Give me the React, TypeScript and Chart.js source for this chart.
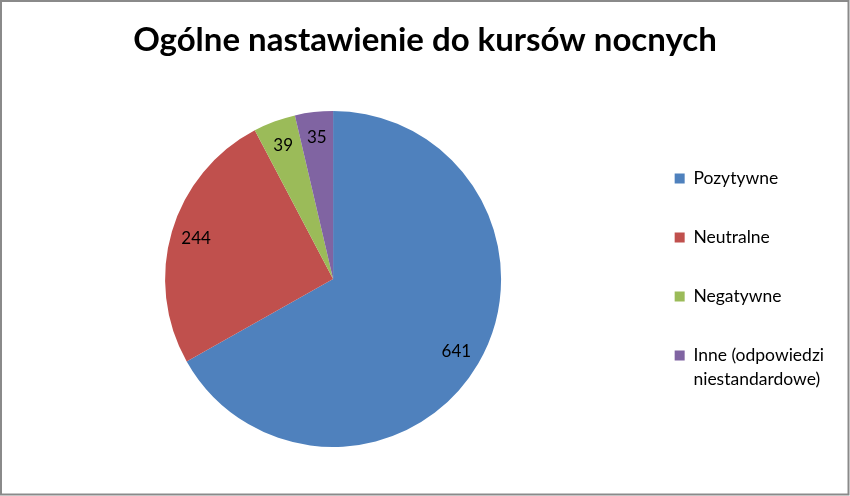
import React, { useEffect, useRef } from "react";
import { Chart, registerables, layouts } from "chart.js";

Chart.register(...registerables);

const categories: (string | string[])[] = [
  "Pozytywne",
  "Neutralne",
  "Negatywne",
  ["Inne (odpowiedzi", "niestandardowe)"],
];
const values: number[] = [641, 244, 39, 35];
const colors: string[] = ["#4F81BD", "#C0504D", "#9BBB59", "#8064A2"];
const titleText = "Ogólne nastawienie do kursów nocnych";

const FONT = "Lato, 'Open Sans', sans-serif";
const SIDE_PAD = 16;
const LEFT_SPACER = 17;

const sliceLabels = {
  id: "sliceLabels",
  afterDatasetsDraw(chart: any) {
    const ctx = chart.ctx;
    const meta = chart.getDatasetMeta(0);
    const data = chart.data.datasets[0].data;
    ctx.save();
    ctx.font = `17px ${FONT}`;
    ctx.fillStyle = "#000";
    ctx.textAlign = "center";
    ctx.textBaseline = "middle";
    meta.data.forEach((arc: any, i: number) => {
      const p = arc.getProps(["x", "y", "startAngle", "endAngle", "outerRadius"], true);
      const mid = (p.startAngle + p.endAngle) / 2;
      const r = p.outerRadius * 0.85;
      ctx.fillText(String(data[i]), p.x + Math.cos(mid) * r, p.y + Math.sin(mid) * r);
    });
    ctx.restore();
  },
};

const frame = {
  id: "frame",
  beforeInit(chart: any) {
    const box: any = {
      position: "left",
      weight: 0,
      fullSize: false,
      options: { stackWeight: 1 },
      width: 0,
      height: 0,
      left: 0,
      top: 0,
      right: 0,
      bottom: 0,
      isHorizontal() {
        return false;
      },
      update(_w: number, h: number) {
        this.width = LEFT_SPACER;
        this.height = h;
        return { width: this.width, height: this.height };
      },
      draw() {},
    };
    layouts.addBox(chart, box);
  },
  beforeDraw(chart: any) {
    const ctx = chart.ctx;
    ctx.save();
    ctx.fillStyle = "#fff";
    ctx.fillRect(0, 0, chart.width, chart.height);
    ctx.restore();
  },
  afterDraw(chart: any) {
    const ctx = chart.ctx;
    ctx.save();
    ctx.strokeStyle = "#8a8a8a";
    ctx.lineWidth = 2;
    ctx.strokeRect(1, 1, chart.width - 2.5, chart.height - 2.5);
    ctx.restore();
  },
};

export default function App() {
  const ref = useRef<HTMLCanvasElement>(null);
  useEffect(() => {
    if (!ref.current) return;
    const chart = new Chart(ref.current, {
      type: "pie",
      data: {
        labels: categories as any,
        datasets: [
          {
            data: values,
            backgroundColor: colors,
            borderWidth: 0,
          },
        ],
      },
      options: {
        animation: false,
        responsive: false,
        devicePixelRatio: 1,
        layout: { padding: { left: SIDE_PAD, right: SIDE_PAD, top: 0, bottom: 49 } },
        plugins: {
          title: {
            display: true,
            text: titleText,
            color: "#000",
            font: { family: FONT, size: 33, weight: "bold" },
            padding: { top: 21, bottom: 50.4 },
          },
          legend: {
            position: "right",
            fullSize: false,
            title: {
              display: true,
              text: "",
              padding: 0,
              font: { family: FONT, size: 6.5, lineHeight: 1 },
            },
            labels: {
              color: "#000",
              boxWidth: 10,
              boxHeight: 10,
              padding: 41.5,
              font: { family: FONT, size: 17.5, lineHeight: 24 / 17.5 },
            },
          },
          tooltip: { enabled: false },
        },
      },
      plugins: [sliceLabels, frame],
    });
    return () => chart.destroy();
  }, []);
  return (
    <div style={{ position: "fixed", left: 0, top: 0, width: 850, height: 496 }}>
      <canvas ref={ref} width={850} height={496} style={{ display: "block" }} />
    </div>
  );
}
